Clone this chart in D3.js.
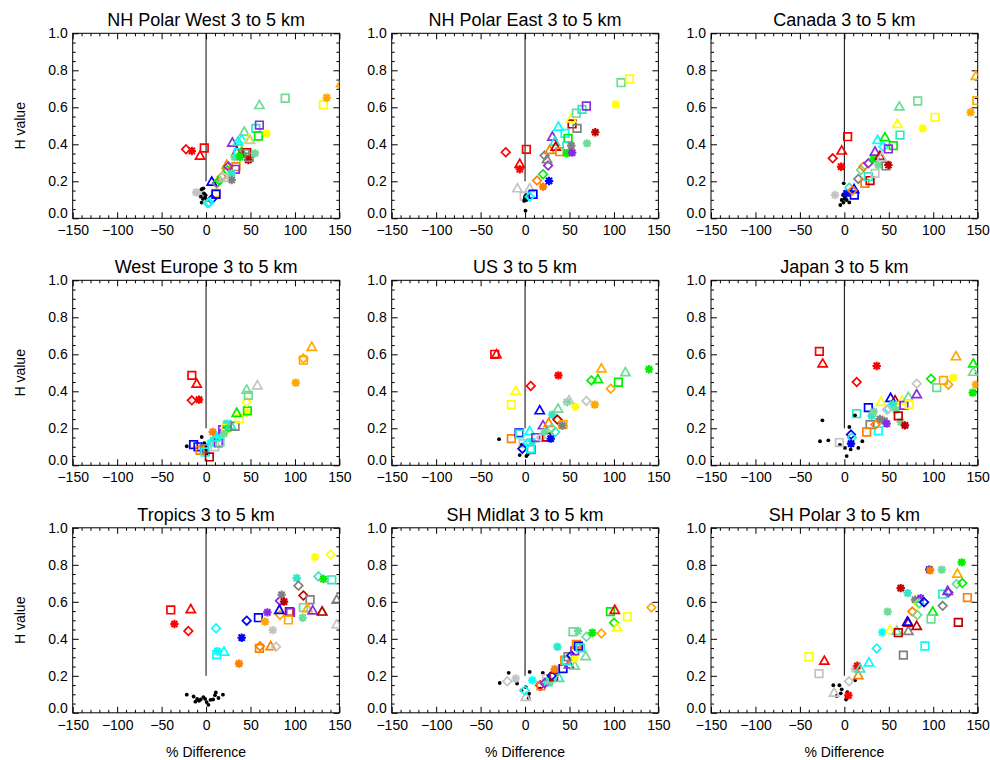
<!DOCTYPE html>
<html>
<head>
<meta charset="utf-8">
<script src="https://cdn.jsdelivr.net/npm/d3@7"></script>
<style>
  body { margin: 0; background: #fff; }
  text { font-family: "Liberation Sans", Arial, Helvetica, sans-serif; fill: #000; }
</style>
</head>
<body>
<svg id="chart" width="990" height="760"></svg>
<script>
// ---- axis definitions ----
const xDomain = [-150, 150];
const yDomain = [0, 1];
const xMajorTicks = [-150, -100, -50, 0, 50, 100, 150];
const yMajorTicks = [0, 0.2, 0.4, 0.6, 0.8, 1.0];
const xMinorStep = 10;
const yMinorStep = 0.05;

const panelTitles = [
  "NH Polar West 3 to 5 km", "NH Polar East 3 to 5 km", "Canada 3 to 5 km",
  "West Europe 3 to 5 km", "US 3 to 5 km", "Japan 3 to 5 km",
  "Tropics 3 to 5 km", "SH Midlat 3 to 5 km", "SH Polar 3 to 5 km"
];
const xAxisLabel = "% Difference";
const yAxisLabel = "H value";

// model index 0 = observations (dots), 1..13 = models
const models = ["OBS", "M01", "M02", "M03", "M04", "M05", "M06", "M07",
                "M08", "M09", "M10", "M11", "M12", "M13"];
// variant codes: D diamond, T triangle, S square, A asterisk, o dot
const variants = ["D", "T", "S", "A", "o"];

// each point: [percent difference, H value, model index, variant]
const nhPolarWest = [
  [-22.5,.373,1,"D"],[-16,.364,1,"A"],[-6.7,.338,1,"T"],[-2,.38,1,"S"],
  [-11,.14,13,"A"],[-7,.138,13,"A"],
  [-4.9,.157,0,"o"],[-2.3,.135,0,"o"],[-5.8,.117,0,"o"],[-1.1,.113,0,"o"],[-4.9,.085,0,"o"],
  [-3,.162,0,"o"],[0.7,.1,0,"o"],[-0.5,.125,0,"o"],[-3.5,.105,0,"o"],
  [11,.135,4,"S"],[11.2,.13,10,"S"],[6.4,.198,10,"T"],[6.4,.103,10,"D"],[2,.081,8,"D"],[3.5,.085,9,"D"],
  [12,.19,12,"D"],[17.6,.225,3,"D"],[15,.205,6,"D"],[20,.23,13,"D"],[24,.26,6,"D"],
  [23.3,.288,3,"T"],[25,.28,11,"D"],[33.7,.279,3,"S"],[33,.265,11,"S"],[28.9,.243,8,"A"],
  [28.9,.207,12,"A"],[20,.22,13,"S"],
  [29.6,.409,11,"T"],[36,.415,8,"T"],[40,.427,9,"T"],[43,.468,7,"T"],[48,.425,5,"T"],[49.5,.423,13,"T"],
  [34.5,.36,2,"T"],[32,.33,7,"A"],[36,.355,9,"S"],[40,.36,6,"T"],[45.8,.355,2,"S"],[44,.35,12,"S"],
  [47.6,.315,2,"A"],[48.5,.33,12,"S"],[55,.351,7,"A"],[38,.33,6,"A"],
  [56,.486,8,"S"],[60,.504,11,"S"],[58.9,.445,6,"S"],[68,.459,5,"A"],[60,.612,7,"T"],[89,.649,7,"S"],
  [132,.613,5,"S"],[135.7,.652,4,"A"],[152,.73,4,"T"]
];
const nhPolarEast = [
  [-21.7,.357,1,"D"],[1.5,.373,1,"S"],[-6,.294,1,"T"],[-6,.265,1,"A"],
  [-8.6,.162,13,"T"],[5.2,.162,13,"T"],[-1,.12,13,"S"],
  [0,.117,0,"o"],[1.5,.099,0,"o"],[-1,.094,0,"o"],[0.5,.041,0,"o"],[-0.5,.105,0,"o"],[1,.125,0,"o"],
  [9,.13,10,"S"],[5.2,.117,9,"D"],[20.2,.171,3,"A"],[13.5,.204,3,"D"],[27,.202,10,"A"],[20.2,.238,6,"D"],
  [25.9,.285,11,"D"],[22,.339,12,"D"],[24.7,.319,12,"T"],[27.7,.369,3,"T"],[30.7,.441,11,"T"],
  [33.4,.414,8,"T"],[34.5,.387,2,"T"],[39,.36,3,"S"],[37.5,.495,9,"T"],[45,.459,9,"S"],[48.4,.432,6,"S"],
  [47,.39,8,"S"],[47,.351,6,"A"],[52,.393,12,"A"],[53,.355,11,"A"],[52.9,.51,2,"S"],[52,.54,5,"T"],
  [58.5,.486,12,"S"],[57.7,.568,7,"S"],[64,.589,8,"S"],[69,.607,11,"S"],[79,.465,2,"A"],[69.7,.405,7,"A"],
  [102,.616,5,"A"],[108,.733,7,"S"],[117.5,.753,5,"S"]
];
const canada = [
  [-13.1,.324,1,"D"],[-3,.366,1,"T"],[-3.7,.279,1,"A"],[3.7,.441,1,"S"],[-10.5,.126,13,"A"],
  [-0.7,.189,0,"o"],[-1.5,.126,0,"o"],[0.7,.117,0,"o"],[-3,.099,0,"o"],[2.6,.099,0,"o"],
  [-4.5,.072,0,"o"],[5.6,.086,0,"o"],[0,.105,0,"o"],[-1,.085,0,"o"],
  [2.6,.135,10,"A"],[5.6,.166,8,"D"],[11,.157,10,"T"],[11.2,.126,10,"S"],[9,.15,3,"D"],
  [15.7,.213,12,"D"],[18.7,.261,7,"D"],[21.4,.279,3,"D"],[27,.297,11,"D"],[23.2,.189,3,"S"],
  [28.9,.204,2,"S"],[27,.225,8,"S"],[34.5,.243,13,"S"],[32.6,.319,6,"A"],[34.5,.36,11,"T"],
  [40,.337,2,"T"],[38.2,.288,7,"A"],[46.9,.283,12,"S"],[49.5,.288,2,"A"],[42,.33,13,"T"],
  [37.5,.423,9,"T"],[45.7,.438,6,"T"],[43.9,.387,9,"D"],[55,.393,6,"S"],[49.5,.375,11,"S"],
  [62.6,.45,8,"S"],[59.6,.51,5,"T"],[61.9,.604,7,"T"],[82.5,.634,7,"S"],[102,.546,5,"S"],
  [88.1,.486,5,"A"],[142,.573,4,"A"],[149,.636,4,"S"],[148,.769,4,"T"]
];
const westEurope = [
  [-16,.486,1,"S"],[-10.5,.441,1,"T"],[-16,.351,1,"D"],[-7.9,.355,1,"A"],
  [-21.7,.103,0,"o"],[-4.9,.153,0,"o"],[-2,.12,0,"o"],[0,.1,0,"o"],[1,.08,0,"o"],[-3,.07,0,"o"],
  [2,.06,0,"o"],[-1,.09,0,"o"],
  [-14,.112,10,"S"],[-9,.1,10,"S"],[-6.7,.081,3,"S"],[-2,.09,12,"S"],[-1,.072,9,"S"],[3.7,.045,2,"S"],
  [7.5,.18,3,"A"],[8.2,.135,8,"A"],[5,.12,9,"A"],[10,.1,13,"S"],[13.9,.121,11,"S"],[15.7,.126,7,"S"],
  [12,.15,8,"T"],[15,.16,9,"A"],[18.7,.193,11,"S"],[20,.185,11,"D"],[23,.225,8,"A"],[22,.2,5,"S"],
  [25,.2,6,"A"],[20,.17,7,"A"],[28,.215,8,"T"],[32.6,.211,12,"S"],[37.5,.252,5,"S"],[34.5,.283,6,"T"],
  [46,.285,5,"A"],[46.5,.294,6,"S"],[45.7,.342,5,"D"],[45.7,.409,7,"T"],[47.6,.378,7,"S"],
  [57.7,.432,13,"T"],[100.9,.447,4,"A"],[109.5,.568,4,"S"],[109.5,.577,4,"D"],[118.9,.64,4,"T"]
];
const us = [
  [-34.1,.6,1,"S"],[-32.2,.6,1,"T"],[6.4,.429,1,"D"],[37.5,.486,1,"A"],[-10.5,.402,5,"T"],[-15.4,.328,5,"S"],
  [-29.2,.141,0,"o"],[-6,.055,0,"o"],[1.5,.05,0,"o"],[3,.06,0,"o"],[-4,.11,0,"o"],[1,.1,0,"o"],
  [-15.4,.144,3,"S"],[-6.7,.175,10,"S"],[-6,.17,8,"S"],[-2.2,.117,13,"S"],[-3,.09,10,"D"],
  [7,.085,12,"S"],[6,.09,9,"S"],[5.2,.184,9,"T"],[8,.13,8,"A"],[3,.12,9,"D"],[16.5,.297,10,"T"],
  [30.7,.274,8,"A"],[12,.15,11,"S"],[18,.15,13,"D"],[24,.153,2,"S"],[28.9,.144,10,"A"],[20.2,.216,11,"T"],
  [26.6,.229,3,"T"],[22,.18,7,"A"],[34,.18,8,"D"],[36.4,.247,2,"D"],[42.7,.22,4,"S"],[42,.215,12,"A"],
  [30,.2,7,"D"],[37.1,.306,7,"T"],[47.2,.342,7,"A"],[49.5,.351,13,"T"],[56.6,.315,5,"A"],
  [69,.348,13,"D"],[78.4,.328,4,"A"],[74.6,.459,6,"D"],[82,.465,6,"T"],[85.9,.523,4,"T"],
  [96.4,.414,4,"D"],[105,.449,6,"S"],[112.9,.503,7,"T"],[139.5,.519,6,"A"]
];
const japan = [
  [-28.1,.616,1,"S"],[-24.4,.55,1,"T"],[13.9,.45,1,"D"],[36.4,.537,1,"A"],
  [-24.7,.243,0,"o"],[-27.4,.13,0,"o"],[-18,.135,0,"o"],[5.6,.207,0,"o"],[0.75,.094,0,"o"],
  [7.1,.086,0,"o"],[2.6,.05,0,"o"],[15.7,.094,0,"o"],[20.2,.13,0,"o"],[-5,.11,0,"o"],
  [-5.6,.123,13,"S"],[7.5,.166,10,"D"],[8.5,.15,8,"D"],[7.5,.117,10,"A"],[13.9,.279,8,"S"],
  [27,.312,10,"S"],[30.7,.267,8,"A"],[28.9,.22,12,"S"],[25.1,.18,3,"S"],[38.2,.186,9,"S"],
  [33,.29,7,"A"],[40,.25,12,"A"],[45,.24,12,"A"],[47.6,.225,11,"A"],[35,.22,3,"D"],
  [41.2,.342,5,"T"],[52,.364,10,"T"],[57,.351,2,"T"],[49.5,.306,9,"D"],[48,.3,13,"D"],[55,.33,8,"A"],
  [58,.3,7,"A"],[63.4,.234,7,"A"],[60.7,.267,2,"S"],[68.2,.216,2,"A"],[65,.35,5,"T"],[72,.369,7,"T"],
  [67,.324,11,"S"],[73,.328,5,"S"],[81.4,.384,11,"T"],[81.4,.441,13,"D"],[97.5,.468,6,"D"],
  [103.9,.42,7,"S"],[111.4,.459,4,"S"],[117,.436,4,"D"],[122.6,.474,5,"A"],[125.6,.589,4,"T"],
  [145,.55,6,"T"],[145,.505,7,"T"],[148,.436,4,"A"],[144.4,.393,6,"A"],[12,.27,0,"o"]
];
const tropics = [
  [-39.7,.556,1,"S"],[-17.2,.56,1,"T"],[-35.6,.48,1,"A"],[-19.9,.442,1,"D"],
  [-21.7,.098,0,"o"],[-14,.088,0,"o"],[-10,.075,0,"o"],[-8,.065,0,"o"],[-6,.072,0,"o"],[-3,.085,0,"o"],
  [0.7,.058,0,"o"],[2.6,.043,0,"o"],[8,.072,0,"o"],[10,.095,0,"o"],[11,.11,0,"o"],[14,.08,0,"o"],
  [19,.098,0,"o"],[-12,.06,0,"o"],[5,.07,0,"o"],[-1,.075,0,"o"],
  [11.2,.457,9,"D"],[12.7,.333,9,"A"],[12,.315,9,"S"],[20.2,.33,9,"T"],[37.1,.266,3,"A"],
  [40.1,.406,10,"A"],[45.7,.498,10,"D"],[58.9,.514,10,"S"],[60,.348,3,"S"],[60.7,.36,3,"D"],
  [72.7,.36,3,"T"],[78.7,.357,13,"D"],[75,.447,13,"A"],[66.4,.493,4,"A"],[69,.543,11,"A"],
  [83.2,.529,4,"D"],[83.2,.605,11,"D"],[85,.638,12,"A"],[87.7,.601,2,"A"],[82.5,.556,10,"T"],
  [93.7,.547,2,"S"],[95,.543,11,"S"],[92.6,.502,4,"S"],[102,.728,8,"A"],[103.9,.687,12,"D"],
  [109.5,.634,2,"D"],[117,.611,12,"S"],[109.5,.569,7,"S"],[108.7,.514,7,"A"],[114,.565,4,"T"],
  [120,.553,11,"T"],[131,.547,7,"T"],[130.5,.547,2,"T"],[122.6,.841,5,"A"],[140.2,.855,5,"D"],
  [126.4,.737,8,"D"],[132,.723,6,"A"],[141.4,.719,8,"S"],[147,.611,12,"T"],[147,.478,13,"T"]
];
const shMidlat = [
  [-28.5,.161,0,"o"],[-18.4,.216,0,"o"],[-9,.158,0,"o"],[-4,.121,0,"o"],[0.75,.139,0,"o"],
  [5.2,.221,0,"o"],[4.5,.103,0,"o"],[4,.08,0,"o"],[17.2,.13,0,"o"],[20,.216,0,"o"],
  [-19.9,.17,13,"D"],[-10.5,.185,13,"A"],[0.75,.085,13,"T"],[-0.4,.121,9,"D"],[8.2,.176,9,"A"],
  [17,.149,1,"D"],[18,.145,3,"S"],[24,.185,13,"S"],[26,.167,8,"S"],[22,.16,11,"D"],[28,.17,7,"A"],
  [30,.2,10,"D"],[32.2,.194,2,"S"],[33.4,.236,3,"A"],[38.2,.188,8,"T"],[36.4,.357,8,"A"],
  [42.7,.239,10,"S"],[49.5,.261,11,"T"],[55.9,.254,7,"T"],[44.6,.284,3,"S"],[46,.28,8,"S"],
  [48.4,.303,12,"S"],[52,.31,10,"D"],[55.9,.293,5,"A"],[55.9,.335,11,"S"],[57.7,.37,3,"S"],
  [60,.36,10,"S"],[62.2,.351,8,"S"],[54,.438,7,"S"],[59.6,.442,7,"A"],[69,.411,7,"D"],
  [68.2,.306,7,"T"],[75.7,.433,6,"A"],[85.9,.429,4,"D"],[96,.547,6,"S"],[100.9,.556,1,"T"],
  [100.1,.487,6,"D"],[103.5,.462,5,"T"],[115.1,.52,5,"S"],[142.1,.569,4,"D"]
];
const shPolar = [
  [-39.7,.303,5,"S"],[-28.5,.212,13,"S"],[-22.5,.281,1,"T"],
  [-12.4,.149,0,"o"],[-5.6,.149,0,"o"],[-3,.127,0,"o"],[-8.6,.091,0,"o"],[3.4,.112,0,"o"],
  [2.6,.085,0,"o"],[1.9,.072,0,"o"],[12,.176,0,"o"],[-4,.105,0,"o"],
  [-11.6,.109,13,"T"],[4.5,.094,1,"A"],[5.2,.17,13,"D"],[12,.236,13,"A"],[14.6,.254,1,"A"],
  [15.7,.203,3,"T"],[17.6,.239,8,"T"],[27.7,.272,9,"T"],[36.4,.348,9,"D"],[42.7,.435,9,"A"],
  [51.4,.447,5,"T"],[48.7,.547,7,"A"],[58.9,.442,7,"T"],[60.7,.433,2,"S"],[72,.442,12,"T"],
  [72,.487,2,"T"],[70.9,.492,10,"T"],[81.4,.469,2,"T"],[66.4,.312,12,"S"],[63.4,.674,2,"A"],
  [71.2,.647,8,"A"],[79.5,.611,12,"A"],[85.9,.62,11,"A"],[83,.59,5,"D"],[84.4,.592,8,"D"],
  [89.6,.598,10,"D"],[76.5,.547,3,"D"],[82.1,.529,7,"D"],[99.4,.547,6,"T"],[97.5,.507,7,"S"],
  [90.7,.361,9,"S"],[95.6,.774,10,"A"],[96.4,.77,3,"A"],[109.5,.774,7,"A"],[110.6,.641,8,"S"],
  [110.6,.578,12,"D"],[116.2,.659,11,"T"],[117,.65,11,"D"],[128.2,.489,2,"S"],[127.1,.752,4,"T"],
  [132,.813,6,"A"],[126.4,.696,7,"D"],[132.7,.701,6,"D"],[138.4,.623,3,"S"]
];

const panelData = [nhPolarWest, nhPolarEast, canada, westEurope, us, japan, tropics, shMidlat, shPolar];

// ---- styling ----
const modelColour = d3.scaleOrdinal()
  .domain(d3.range(models.length))
  .range(["#000000", "#ff0000", "#c00000", "#ff7f00", "#ffa800", "#ffff00", "#00ee00",
          "#6ddc96", "#2ee6c8", "#00ffff", "#0000ff", "#8a2be2", "#808080", "#c4c4c4"]);

// custom marker shapes for d3.symbol
const markerShapes = {
  S: { draw(c) { const h = 3.8; c.moveTo(-h,-h); c.lineTo(h,-h); c.lineTo(h,h); c.lineTo(-h,h); c.closePath(); } },
  T: { draw(c) { c.moveTo(0,-4.7); c.lineTo(4.6,3.4); c.lineTo(-4.6,3.4); c.closePath(); } },
  D: { draw(c) { const h = 4.3; c.moveTo(0,-h); c.lineTo(h,0); c.lineTo(0,h); c.lineTo(-h,0); c.closePath(); } },
  A: { draw(c) { const r = 4.2, d = 3.1;
        c.moveTo(-r,0); c.lineTo(r,0); c.moveTo(0,-r); c.lineTo(0,r);
        c.moveTo(-d,-d); c.lineTo(d,d); c.moveTo(-d,d); c.lineTo(d,-d); } },
  o: { draw(c) { c.moveTo(1.9,0); c.arc(0,0,1.9,0,2*Math.PI); } }
};
const symbolFor = d3.symbol().type(v => markerShapes[v]);

// ---- layout ----
const colLeft = [72.7, 391.7, 711.0];
const rowTop = [33.3, 280.3, 527.8];
const plotW = 266.7, plotH = 185;

const svg = d3.select("#chart");
svg.append("rect").attr("width", 990).attr("height", 760).attr("fill", "#fff");

const defs = svg.append("defs");

panelData.forEach((pts, i) => {
  const col = i % 3, row = Math.floor(i / 3);
  const g = svg.append("g").attr("transform", `translate(${colLeft[col]},${rowTop[row]})`);

  const x = d3.scaleLinear().domain(xDomain).range([0, plotW]);
  const y = d3.scaleLinear().domain(yDomain).range([plotH, 0]);

  const clipId = "clip" + i;
  defs.append("clipPath").attr("id", clipId)
    .append("rect").attr("width", plotW).attr("height", plotH);

  // title
  g.append("text")
    .attr("x", plotW / 2).attr("y", -7)
    .attr("text-anchor", "middle")
    .attr("font-size", 18)
    .text(panelTitles[i]);

  const xMinor = d3.range(xDomain[0], xDomain[1] + 0.001, xMinorStep).filter(v => v % 50 !== 0);
  const yMinor = d3.range(0, 1.0001, yMinorStep).map(v => +v.toFixed(2))
                   .filter(v => Math.abs(v * 5 - Math.round(v * 5)) > 1e-6);

  // bottom axis (labels) and minor ticks
  const gb = g.append("g").attr("transform", `translate(0,${plotH})`)
    .call(d3.axisBottom(x).tickValues(xMajorTicks).tickSize(-6).tickSizeOuter(0)
      .tickPadding(7).tickFormat(d3.format("d")));
  g.append("g").attr("transform", `translate(0,${plotH})`)
    .call(d3.axisBottom(x).tickValues(xMinor).tickSize(-3).tickSizeOuter(0).tickFormat(""));
  // top axis
  g.append("g").call(d3.axisTop(x).tickValues(xMajorTicks).tickSize(-6).tickSizeOuter(0).tickFormat(""));
  g.append("g").call(d3.axisTop(x).tickValues(xMinor).tickSize(-3).tickSizeOuter(0).tickFormat(""));
  // left axis (labels)
  const gl = g.append("g")
    .call(d3.axisLeft(y).tickValues(yMajorTicks).tickSize(-6).tickSizeOuter(0)
      .tickPadding(5).tickFormat(d3.format(".1f")));
  g.append("g").call(d3.axisLeft(y).tickValues(yMinor).tickSize(-3).tickSizeOuter(0).tickFormat(""));
  // right axis
  g.append("g").attr("transform", `translate(${plotW},0)`)
    .call(d3.axisRight(y).tickValues(yMajorTicks).tickSize(-6).tickSizeOuter(0).tickFormat(""));
  g.append("g").attr("transform", `translate(${plotW},0)`)
    .call(d3.axisRight(y).tickValues(yMinor).tickSize(-3).tickSizeOuter(0).tickFormat(""));

  g.selectAll(".domain").remove();
  g.selectAll(".tick line").attr("stroke", "#000");
  gb.selectAll("text").attr("font-size", 14).attr("fill", "#000")
    .attr("font-family", '"Liberation Sans", Arial, sans-serif');
  gl.selectAll("text").attr("font-size", 14).attr("fill", "#000")
    .attr("font-family", '"Liberation Sans", Arial, sans-serif');
  // lift the bottom y label clear of the x labels
  gl.selectAll(".tick").filter(d => d === 0).select("text").attr("dy", "-0.05em");

  // frame
  g.append("rect").attr("width", plotW).attr("height", plotH)
    .attr("fill", "none").attr("stroke", "#000").attr("stroke-width", 1);

  // zero-difference reference line
  g.append("line")
    .attr("x1", x(0)).attr("x2", x(0))
    .attr("y1", y(0.2)).attr("y2", y(1.0))
    .attr("stroke", "#000").attr("stroke-width", 1);

  // markers
  const pg = g.append("g").attr("clip-path", `url(#${clipId})`);
  pg.selectAll("path.pt").data(pts).join("path")
    .attr("class", "pt")
    .attr("transform", d => `translate(${x(d[0])},${y(d[1])})`)
    .attr("d", d => symbolFor(d[3]))
    .attr("fill", d => d[3] === "o" ? modelColour(d[2]) : "none")
    .attr("stroke", d => d[3] === "o" ? "none" : modelColour(d[2]))
    .attr("stroke-width", d => d[3] === "A" ? 2.1 : 1.7);

  // axis titles
  if (col === 0) {
    g.append("text")
      .attr("transform", `translate(${20 - colLeft[0] + 5},${plotH / 2}) rotate(-90)`)
      .attr("text-anchor", "middle")
      .attr("font-size", 14)
      .text(yAxisLabel);
  }
  if (row === 2) {
    g.append("text")
      .attr("x", plotW / 2).attr("y", 757 - rowTop[2])
      .attr("text-anchor", "middle")
      .attr("font-size", 14)
      .text(xAxisLabel);
  }
});
</script>
</body>
</html>
